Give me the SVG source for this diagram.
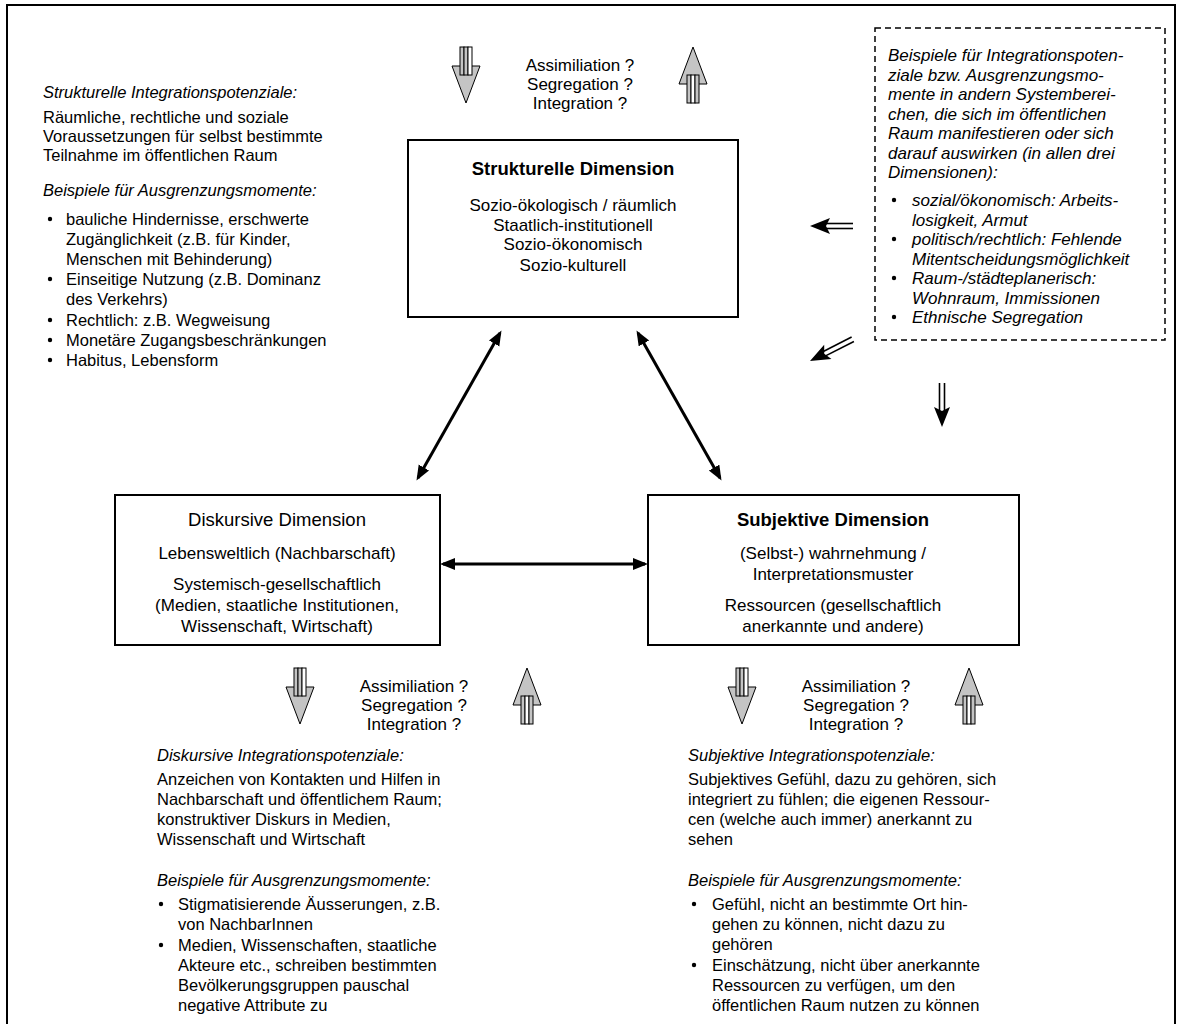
<svg xmlns="http://www.w3.org/2000/svg" width="1180" height="1024" viewBox="0 0 1180 1024">
<defs>
<style>
text{font-family:"Liberation Sans",Arial,sans-serif;fill:#000}
.box{fill:#fff;stroke:#000;stroke-width:2}
.ttl{font-size:18.5px;text-anchor:middle}
.b{font-weight:bold}
.ln{font-size:17px;text-anchor:middle}
.q{font-size:17px;text-anchor:middle}
.t1{font-size:16.5px}
.t2{font-size:16.5px}
.it{font-style:italic}
.conn{stroke:#000;stroke-width:3;fill:none;marker-start:url(#ah);marker-end:url(#ah)}
.dl{stroke:#000;stroke-width:1.6}
.gray{fill:#c4c4c4;stroke:#000;stroke-width:1}
.wht{fill:#fff;stroke:#000;stroke-width:1}
</style>
<marker id="ah" markerUnits="userSpaceOnUse" markerWidth="16" markerHeight="14" refX="12" refY="6" orient="auto-start-reverse" viewBox="0 0 16 14">
<path d="M0,0 L15,6 L0,12 Z" fill="#000"/>
</marker>
<g id="downArrow">
<polygon class="gray" points="-14,19 14,19 0,56"/>
<rect class="gray" x="-6" y="0" width="4" height="28"/>
<rect class="gray" x="-2" y="0" width="4" height="28"/>
<rect class="wht" x="2" y="0" width="4" height="28"/>
</g>
<g id="upArrow">
<polygon class="gray" points="-14,37 14,37 0,0"/>
<rect class="gray" x="-6" y="28" width="4" height="28"/>
<rect class="wht" x="-2" y="28" width="4" height="28"/>
<rect class="gray" x="2" y="28" width="4" height="28"/>
</g>
<g id="dblHead">
<path d="M0,0 L20,-8 L16,0 L20,8 Z" fill="#000"/>
</g>
</defs>

<rect x="7" y="5" width="1168" height="1040" fill="#fff" stroke="#000" stroke-width="2"/>

<g id="node-strukturelle">
<rect class="box" x="408" y="140" width="330" height="177"/>
<text class="ttl b" x="573" y="175">Strukturelle Dimension</text>
<text class="ln" x="573" y="211">Sozio-ökologisch / räumlich</text>
<text class="ln" x="573" y="231">Staatlich-institutionell</text>
<text class="ln" x="573" y="250">Sozio-ökonomisch</text>
<text class="ln" x="573" y="271">Sozio-kulturell</text>
</g>

<g id="node-diskursive">
<rect class="box" x="115" y="495" width="325" height="150"/>
<text class="ttl" x="277" y="526">Diskursive Dimension</text>
<text class="ln" x="277" y="559">Lebensweltlich (Nachbarschaft)</text>
<text class="ln" x="277" y="590">Systemisch-gesellschaftlich</text>
<text class="ln" x="277" y="611">(Medien, staatliche Institutionen,</text>
<text class="ln" x="277" y="632">Wissenschaft, Wirtschaft)</text>
</g>

<g id="node-subjektive">
<rect class="box" x="648" y="495" width="371" height="150"/>
<text class="ttl b" x="833" y="526">Subjektive Dimension</text>
<text class="ln" x="833" y="559">(Selbst-) wahrnehmung /</text>
<text class="ln" x="833" y="580">Interpretationsmuster</text>
<text class="ln" x="833" y="611">Ressourcen (gesellschaftlich</text>
<text class="ln" x="833" y="632">anerkannte und andere)</text>
</g>

<g id="node-beispiele-box">
<rect x="875" y="28" width="290" height="312" fill="#fff" stroke="#000" stroke-width="1.5" stroke-dasharray="6,4"/>
<g class="t1 it" style="font-size:17px">
<text x="888" y="61">Beispiele für Integrationspoten-</text>
<text x="888" y="80.5">ziale bzw. Ausgrenzungsmo-</text>
<text x="888" y="100">mente in andern Systemberei-</text>
<text x="888" y="119.5">chen, die sich im öffentlichen</text>
<text x="888" y="139">Raum manifestieren oder sich</text>
<text x="888" y="158.5">darauf auswirken (in allen drei</text>
<text x="888" y="178">Dimensionen):</text>
<text x="912" y="206">sozial/ökonomisch: Arbeits-</text>
<text x="912" y="225.5">losigkeit, Armut</text>
<text x="912" y="245">politisch/rechtlich: Fehlende</text>
<text x="912" y="264.5">Mitentscheidungsmöglichkeit</text>
<text x="912" y="284">Raum-/städteplanerisch:</text>
<text x="912" y="303.5">Wohnraum, Immissionen</text>
<text x="912" y="323">Ethnische Segregation</text>
</g>
<circle cx="894" cy="200" r="2.2"/>
<circle cx="894" cy="239" r="2.2"/>
<circle cx="894" cy="278" r="2.2"/>
<circle cx="894" cy="317" r="2.2"/>
</g>

<g id="node-strukturelle-text">
<text class="t1 it" x="43" y="98">Strukturelle Integrationspotenziale:</text>
<text class="t1" x="43" y="123">Räumliche, rechtliche und soziale</text>
<text class="t1" x="43" y="142">Voraussetzungen für selbst bestimmte</text>
<text class="t1" x="43" y="161">Teilnahme im öffentlichen Raum</text>
<text class="t1 it" x="43" y="196">Beispiele für Ausgrenzungsmomente:</text>
<text class="t1" x="66" y="225">bauliche Hindernisse, erschwerte</text>
<text class="t1" x="66" y="245">Zugänglichkeit (z.B. für Kinder,</text>
<text class="t1" x="66" y="265">Menschen mit Behinderung)</text>
<text class="t1" x="66" y="285">Einseitige Nutzung (z.B. Dominanz</text>
<text class="t1" x="66" y="305">des Verkehrs)</text>
<text class="t1" x="66" y="326">Rechtlich: z.B. Wegweisung</text>
<text class="t1" x="66" y="346">Monetäre Zugangsbeschränkungen</text>
<text class="t1" x="66" y="366">Habitus, Lebensform</text>
<circle cx="50" cy="219" r="2.2"/>
<circle cx="50" cy="279" r="2.2"/>
<circle cx="50" cy="320" r="2.2"/>
<circle cx="50" cy="340" r="2.2"/>
<circle cx="50" cy="360" r="2.2"/>
</g>

<g id="node-diskursive-text">
<text class="t2 it" x="157" y="761">Diskursive Integrationspotenziale:</text>
<text class="t2" x="157" y="785">Anzeichen von Kontakten und Hilfen in</text>
<text class="t2" x="157" y="805">Nachbarschaft und öffentlichem Raum;</text>
<text class="t2" x="157" y="825">konstruktiver Diskurs in Medien,</text>
<text class="t2" x="157" y="845">Wissenschaft und Wirtschaft</text>
<text class="t2 it" x="157" y="886">Beispiele für Ausgrenzungsmomente:</text>
<text class="t2" x="178" y="910">Stigmatisierende Äusserungen, z.B.</text>
<text class="t2" x="178" y="930">von NachbarInnen</text>
<text class="t2" x="178" y="951">Medien, Wissenschaften, staatliche</text>
<text class="t2" x="178" y="971">Akteure etc., schreiben bestimmten</text>
<text class="t2" x="178" y="991">Bevölkerungsgruppen pauschal</text>
<text class="t2" x="178" y="1011">negative Attribute zu</text>
<circle cx="161" cy="904" r="2.2"/>
<circle cx="161" cy="945" r="2.2"/>
</g>

<g id="node-subjektive-text">
<text class="t2 it" x="688" y="761">Subjektive Integrationspotenziale:</text>
<text class="t2" x="688" y="785">Subjektives Gefühl, dazu zu gehören, sich</text>
<text class="t2" x="688" y="805">integriert zu fühlen; die eigenen Ressour-</text>
<text class="t2" x="688" y="825">cen (welche auch immer) anerkannt zu</text>
<text class="t2" x="688" y="845">sehen</text>
<text class="t2 it" x="688" y="886">Beispiele für Ausgrenzungsmomente:</text>
<text class="t2" x="712" y="910">Gefühl, nicht an bestimmte Ort hin-</text>
<text class="t2" x="712" y="930">gehen zu können, nicht dazu zu</text>
<text class="t2" x="712" y="950">gehören</text>
<text class="t2" x="712" y="971">Einschätzung, nicht über anerkannte</text>
<text class="t2" x="712" y="991">Ressourcen zu verfügen, um den</text>
<text class="t2" x="712" y="1011">öffentlichen Raum nutzen zu können</text>
<circle cx="694" cy="904" r="2.2"/>
<circle cx="694" cy="965" r="2.2"/>
</g>

<g id="node-aseg-top">
<use href="#downArrow" x="466" y="47"/>
<use href="#upArrow" x="693" y="47"/>
<text class="q" x="580" y="71">Assimiliation ?</text>
<text class="q" x="580" y="90">Segregation ?</text>
<text class="q" x="580" y="109">Integration ?</text>
</g>

<g id="node-aseg-left">
<use href="#downArrow" x="300" y="668"/>
<use href="#upArrow" x="527" y="668"/>
<text class="q" x="414" y="692">Assimiliation ?</text>
<text class="q" x="414" y="711">Segregation ?</text>
<text class="q" x="414" y="730">Integration ?</text>
</g>

<g id="node-aseg-right">
<use href="#downArrow" x="742" y="668"/>
<use href="#upArrow" x="969" y="668"/>
<text class="q" x="856" y="692">Assimiliation ?</text>
<text class="q" x="856" y="711">Segregation ?</text>
<text class="q" x="856" y="730">Integration ?</text>
</g>

<g id="connectors">
<line class="conn" x1="418" y1="478" x2="500" y2="333"/>
<line class="conn" x1="638" y1="333" x2="720" y2="478"/>
<line class="conn" x1="443" y1="564" x2="645" y2="564"/>
<g transform="translate(810,226)">
<line class="dl" x1="14" y1="-2.5" x2="43" y2="-2.5"/>
<line class="dl" x1="14" y1="2.5" x2="43" y2="2.5"/>
<use href="#dblHead"/>
</g>
<g transform="translate(810,361) rotate(-27)">
<line class="dl" x1="14" y1="-2.5" x2="48" y2="-2.5"/>
<line class="dl" x1="14" y1="2.5" x2="48" y2="2.5"/>
<use href="#dblHead"/>
</g>
<g transform="translate(942,427) rotate(-90)">
<line class="dl" x1="14" y1="-2.5" x2="44" y2="-2.5"/>
<line class="dl" x1="14" y1="2.5" x2="44" y2="2.5"/>
<use href="#dblHead"/>
</g>
</g>
</svg>
